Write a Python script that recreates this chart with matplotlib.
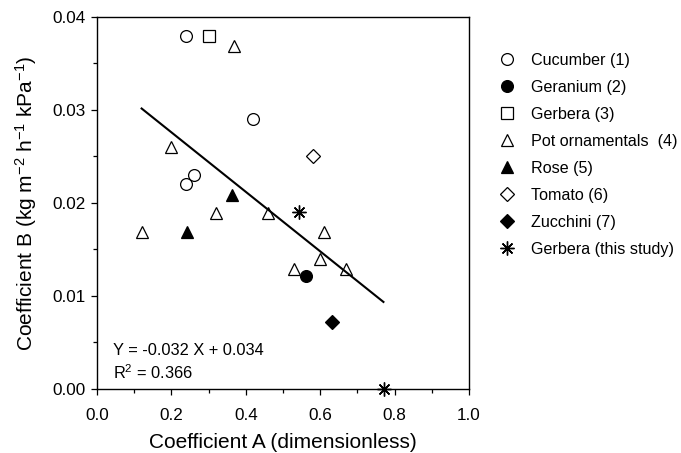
import numpy as np
import matplotlib
matplotlib.use("Agg")
import matplotlib.pyplot as plt

plt.rcParams['font.family'] = ['Liberation Sans', 'DejaVu Sans']
plt.rcParams['mathtext.fontset'] = 'custom'
plt.rcParams['mathtext.rm'] = 'Liberation Sans'
plt.rcParams['mathtext.it'] = 'Liberation Sans:italic'

# data (Coefficient A, Coefficient B)
cucumber_a = [0.24, 0.42, 0.24, 0.262]
cucumber_b = [0.038, 0.029, 0.022, 0.023]
geranium_a = [0.562]
geranium_b = [0.0121]
gerbera_a = [0.30]
gerbera_b = [0.038]
pot_a = [0.369, 0.20, 0.12, 0.32, 0.461, 0.611, 0.53, 0.60, 0.669]
pot_b = [0.0369, 0.026, 0.0169, 0.0189, 0.0189, 0.0169, 0.0129, 0.0140, 0.0129]
rose_a = [0.362, 0.241]
rose_b = [0.0209, 0.0169]
tomato_a = [0.581]
tomato_b = [0.025]
zucchini_a = [0.631]
zucchini_b = [0.0072]
study_a = [0.544, 0.771]
study_b = [0.0190, 0.0]

# regression
slope = -0.032
intercept = 0.034
fit_x = np.array([0.12, 0.77])

fig = plt.figure(figsize=(6.81, 4.53), dpi=100)
ax = fig.add_axes([0.1424, 0.1413, 0.5463, 0.8212])

ms = 8.5
ax.plot(cucumber_a, cucumber_b, ls='', marker='o', ms=ms, mfc='white', mec='black', mew=0.9, label='Cucumber (1)')
ax.plot(geranium_a, geranium_b, ls='', marker='o', ms=ms, mfc='black', mec='black', mew=0.9, label='Geranium (2)')
ax.plot(gerbera_a, gerbera_b, ls='', marker='s', ms=ms - 0.5, mfc='white', mec='black', mew=0.9, label='Gerbera (3)')
ax.plot(pot_a, pot_b, ls='', marker='^', ms=ms, mfc='white', mec='black', mew=0.9, label='Pot ornamentals  (4)')
ax.plot(rose_a, rose_b, ls='', marker='^', ms=ms, mfc='black', mec='black', mew=0.9, label='Rose (5)')
ax.plot(tomato_a, tomato_b, ls='', marker='D', ms=ms - 1.5, mfc='white', mec='black', mew=0.9, label='Tomato (6)')
ax.plot(zucchini_a, zucchini_b, ls='', marker='D', ms=ms - 1.5, mfc='black', mec='black', mew=0.9, label='Zucchini (7)')
ax.plot(study_a, study_b, ls='', marker=(8, 2, 0), ms=ms + 1.5, mfc='none', mec='black', mew=1.0,
        label='Gerbera (this study)', clip_on=False, zorder=5)

ax.plot(fit_x, slope * fit_x + intercept, color='black', lw=1.5)

ax.text(0.042, 0.0008, 'Y = -0.032 X + 0.034\nR$^2$ = 0.366', fontsize=11.8,
        ha='left', va='bottom', linespacing=1.3)

ax.set_xlim(0, 1.0)
ax.set_ylim(0, 0.04)
ax.set_xticks(np.arange(0, 1.01, 0.2))
ax.set_xticks(np.arange(0.1, 1.0, 0.2), minor=True)
ax.set_yticks(np.arange(0, 0.0401, 0.01))
ax.set_yticks(np.arange(0.005, 0.04, 0.01), minor=True)
ax.xaxis.set_major_formatter(plt.FormatStrFormatter('%.1f'))
ax.yaxis.set_major_formatter(plt.FormatStrFormatter('%.2f'))
ax.tick_params(which='major', direction='out', length=4, width=0.9, labelsize=12.3)
ax.tick_params(axis='x', which='major', pad=10)
ax.tick_params(axis='y', which='major', pad=4)
ax.tick_params(which='minor', direction='out', length=3, width=0.9)
for s in ax.spines.values():
    s.set_linewidth(1.0)

ax.set_xlabel('Coefficient A (dimensionless)', fontsize=15, labelpad=7)
ax.set_ylabel('Coefficient B (kg m$^{-2}$ h$^{-1}$ kPa$^{-1}$)', fontsize=15, labelpad=10)

fig.legend(loc='upper left', bbox_to_anchor=(0.731, 0.884), frameon=False,
           fontsize=11.6, labelspacing=0.75, handletextpad=0.85, handlelength=1.2,
           borderaxespad=0, borderpad=0)

fig.savefig('out.png', dpi=100)
